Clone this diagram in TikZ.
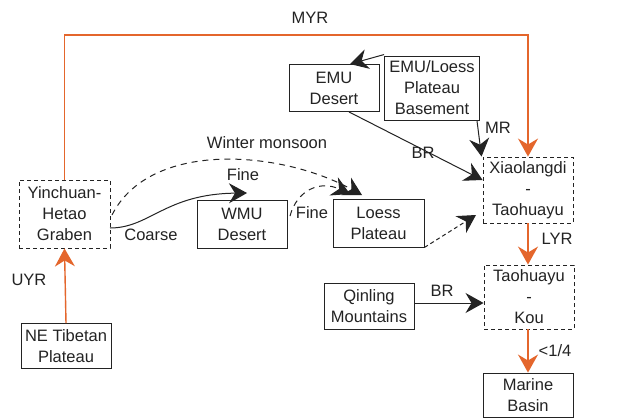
\documentclass[tikz,border=0pt]{standalone}
\usepackage{fontspec}
\setmainfont{Liberation Sans}
\usetikzlibrary{arrows.meta}
\definecolor{riv}{RGB}{228,102,44}
\definecolor{ink}{RGB}{35,35,35}
\begin{document}
\begin{tikzpicture}[x=1pt,y=-1pt,
 box/.style={draw=ink, line width=0.9pt, align=center, inner sep=0pt, text=ink,
   font=\fontsize{16.5}{21}\selectfont},
 dbox/.style={box, dash pattern=on 4pt off 3pt},
 arr/.style={-{Stealth[length=18pt,width=20pt,inset=6pt]}},
 con/.style={draw=ink, line width=1pt, arr},
 rivcon/.style={draw=riv, line width=1.4pt, -{Stealth[length=18pt,width=20pt,inset=6pt,fill=riv]}},
 lab/.style={font=\fontsize{16.5}{18}\selectfont, inner sep=1pt, text=ink}
]
\useasboundingbox (0,0) rectangle (622,418);
\fill[white] (0,0) rectangle (622,418);

\node[dbox, minimum width=91, minimum height=68] (yh) at (64.5,214) {Yinchuan-\\Hetao\\Graben};
\node[box, minimum width=90, minimum height=45] (ne) at (66,346) {NE Tibetan\\Plateau};
\node[box, minimum width=90, minimum height=47] (emu) at (334,88) {EMU\\Desert};
\node[box, minimum width=95, minimum height=64] (base) at (432,88) {EMU/Loess\\Plateau\\Basement};
\node[dbox, minimum width=90, minimum height=66] (xt) at (528,190) {Xiaolangdi\\-\\Taohuayu};
\node[box, minimum width=90, minimum height=48] (wmu) at (242,224) {WMU\\Desert};
\node[box, minimum width=91, minimum height=48] (lp) at (378.5,223) {Loess\\Plateau};
\node[dbox, minimum width=90, minimum height=64] (tk) at (529,297) {Taohuayu\\-\\Kou};
\node[box, minimum width=90, minimum height=46] (qm) at (369,306) {Qinling\\Mountains};
\node[box, minimum width=90, minimum height=44] (mb) at (528,395) {Marine\\Basin};

% orange river paths
\draw[rivcon] (ne.north) -- (yh.south);
\node[lab] (uyr) at (29,280) {UYR};
\draw[rivcon] (yh.north) -- (64.5,35) -| (xt.north);
\node[lab] (myr) at (310,18) {MYR};
\draw[rivcon] (xt.south) -- (xt.south |- tk.north);
\node[lab] (lyr) at (557,239) {LYR};
\draw[rivcon] (tk.south -| mb.north) -- (mb.north);
\node[lab] (q) at (555,351) {<1/4};

% black connectors
\draw[con] ([yshift=1]base.north west) -- ([xshift=16]emu.north);
\draw[con] ([xshift=-3]base.south east) -- ([xshift=-1]xt.north west);
\node[lab] (mr) at (498,128) {MR};
\draw[con] ([xshift=15]emu.south) -- ([yshift=10]xt.west);
\node[lab] (br1) at (423,153) {BR};
\draw[con] (qm.east |- 0,303) -- (tk.west |- 0,303);
\node[lab] (br2) at (442,291) {BR};

\coordinate (coarseStart) at (110,228);
\coordinate (fineTip) at (247,193);
\draw[con] (coarseStart) .. controls (150,228) and (165,194) .. (fineTip);
\node[lab] (coarse) at (151,235) {Coarse};
\node[lab] (fine1) at (243,175) {Fine};

\coordinate (wmStart) at (112,215);
\coordinate (wmTip) at (362,195);
\draw[con, dash pattern=on 6pt off 5pt] (wmStart) .. controls (150,140) and (280,150) .. (wmTip);
\node[lab] (wm) at (267,143) {Winter monsoon};

\coordinate (f2Start) at (290,216);
\coordinate (f2Tip) at (350,194);
\draw[con, dash pattern=on 6pt off 5pt] (f2Start) .. controls (297,190) and (320,180) .. (f2Tip);
\node[lab] (fine2) at (312,213) {Fine};

\coordinate (lpTip) at (476,215);
\draw[con, dash pattern=on 4pt off 3pt] (lp.south east) -- (lpTip);
\end{tikzpicture}
\end{document}
